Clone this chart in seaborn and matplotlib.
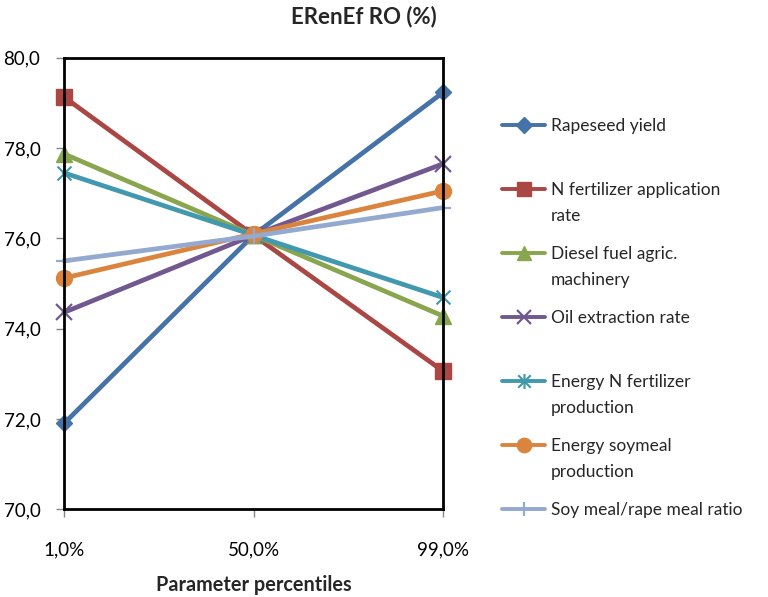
import textwrap
import numpy as np
import pandas as pd
import matplotlib
matplotlib.use("Agg")
import matplotlib.pyplot as plt
import seaborn as sns
from matplotlib.lines import Line2D
from matplotlib.path import Path

# ---- data ----
percentiles = ["1,0%", "50,0%", "99,0%"]
series_names = [
    "Rapeseed yield",
    "N fertilizer application rate",
    "Diesel fuel agric. machinery",
    "Oil extraction rate",
    "Energy N fertilizer production",
    "Energy soymeal production",
    "Soy meal/rape meal ratio",
]
rapeseed_yield = [71.90, 76.07, 79.23]
n_fertilizer_rate = [79.13, 76.07, 73.06]
diesel_fuel = [77.87, 76.07, 74.28]
oil_extraction = [74.36, 76.07, 77.65]
energy_n_fertilizer = [77.45, 76.07, 74.69]
energy_soymeal = [75.12, 76.10, 77.05]
soy_rape_ratio = [75.50, 76.05, 76.68]
y_ticks = [70, 72, 74, 76, 78, 80]

title = "ERenEf RO (%)"
x_title = "Parameter percentiles"

# ---- styles ----
star_path = Path([(-1, -1), (1, 1), (-1, 1), (1, -1), (0, -1.2), (0, 1.2)],
                 [Path.MOVETO, Path.LINETO, Path.MOVETO, Path.LINETO,
                  Path.MOVETO, Path.LINETO])
colors = ["#4572A7", "#AA4643", "#89A54E", "#71588F", "#4198AF", "#DB843D", "#93A9CF"]
markers = ["D", "s", "^", "x", star_path, "o", "+"]
msizes = [8.5, 11, 11, 11, 12, 11.5, 11]
mews = [1, 1, 1, 1.6, 1.5, 1, 1.6]

all_values = [rapeseed_yield, n_fertilizer_rate, diesel_fuel, oil_extraction,
              energy_n_fertilizer, energy_soymeal, soy_rape_ratio]
rows = []
for name, vals in zip(series_names, all_values):
    for i, (p, v) in enumerate(zip(percentiles, vals)):
        rows.append({"series": name, "pos": i, "percentile": p, "value": v})
df = pd.DataFrame(rows)

sns.set_theme(style="white")
plt.rcParams['font.family'] = ['Lato', 'DejaVu Sans']

W, H = 768, 597
fig = plt.figure(figsize=(W / 100, H / 100), dpi=100)
left, right, top, bottom = 64, 443, 57.7, 509.3
ax = fig.add_axes([left / W, 1 - bottom / H, (right - left) / W, (bottom - top) / H])

sns.lineplot(data=df, x="pos", y="value", hue="series",
             hue_order=series_names, palette=colors, linewidth=3.4,
             legend=False, sort=False, ax=ax)

for line, c, m, ms, mew in zip(ax.lines, colors, markers, msizes, mews):
    line.set_marker(m)
    line.set_markersize(ms)
    line.set_markerfacecolor(c)
    line.set_markeredgecolor(c)
    line.set_markeredgewidth(mew)
    line.set_clip_on(False)
    line.set_solid_joinstyle("round")

ax.set_xlim(0, 2)
ax.set_ylim(70, 80)
ax.set_xticks(range(len(percentiles)), percentiles)
ax.set_yticks(y_ticks, [f"{v:.1f}".replace(".", ",") for v in y_ticks])
ax.set_xlabel("")
ax.set_ylabel("")
ax.tick_params(axis="both", which="major", direction="out", length=6, width=1,
               color="#868686", labelsize=13.5, labelcolor="black")
ax.tick_params(axis="y", left=True, pad=11)
ax.tick_params(axis="x", bottom=True, pad=17)
for s in ax.spines.values():
    s.set_visible(True)
    s.set_color("black")
    s.set_linewidth(2)
ax.grid(False)

fig.text(364 / W, 1 - 17 / H, title, ha="center", va="center",
         fontsize=16, fontweight="bold")
fig.text(254 / W, 1 - 585 / H, x_title, ha="center", va="center",
         fontsize=14.3, fontweight="bold")

# ---- legend (Excel style, manual layout) ----
row_y = 125
for name, c, m, ms, mew in zip(series_names, colors, markers, msizes, mews):
    yf = 1 - row_y / H
    ln = Line2D([502 / W, 523.5 / W, 545 / W], [yf, yf, yf], transform=fig.transFigure,
                color=c, linewidth=2.8, marker=m, markevery=[1],
                markersize=ms * 0.9, markerfacecolor=c, markeredgecolor=c,
                markeredgewidth=mew)
    fig.add_artist(ln)
    for k, txt in enumerate(textwrap.wrap(name, width=24)):
        fig.text(551 / W, 1 - (row_y + 6 + 26 * k) / H, txt, ha="left",
                 va="baseline", fontsize=12.5)
    row_y += 64

fig.savefig("out.png", dpi=100)
